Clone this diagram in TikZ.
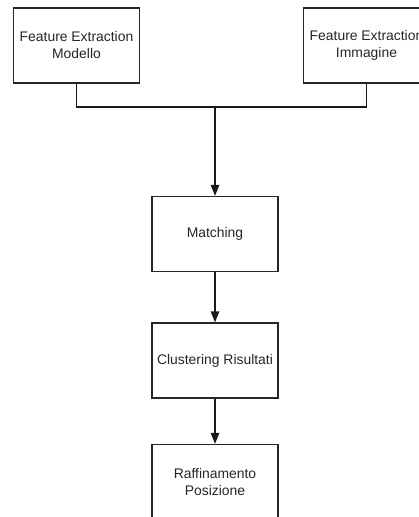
\documentclass[tikz,border=0pt]{standalone}
\usepackage{fontspec}
\setmainfont{Liberation Sans}
\usetikzlibrary{arrows.meta}
\begin{document}
\begin{tikzpicture}[x=1pt, y=-1pt,
  stage/.style={draw=black!85, line width=1.3pt, fill=white,
    minimum width=126pt, minimum height=75pt, inner sep=0pt,
    align=center, text=black!85, font=\fontsize{13.9}{17}\selectfont},
  link/.style={line width=1.3pt, draw=black!90},
  flow/.style={link, -{Triangle[length=11pt, width=8.5pt]}}]
\useasboundingbox (0,0) rectangle (419,517);
\clip (0,0) rectangle (419,517);
% the two feature extraction stages
\node[stage] (fem) at (76.5,45.5) {Feature Extraction\\Modello};
\node[stage] (fei) at (366.5,45.5) {Feature Extraction\\Immagine};
% processing chain
\node[stage] (match) at (215,234) {Matching};
\node[stage] (clust) at (215,360.5) {Clustering Risultati};
\node[stage] (refine) at (215,482) {Raffinamento\\Posizione};
% merge of the two branches
\coordinate (join) at (215,107);
\draw[link] (fem.south) |- (join) -| (fei.south);
\draw[flow] (join) -- (match.north);
\draw[flow] (match.south) -- (clust.north);
\draw[flow] (clust.south) -- (refine.north);
\end{tikzpicture}
\end{document}
